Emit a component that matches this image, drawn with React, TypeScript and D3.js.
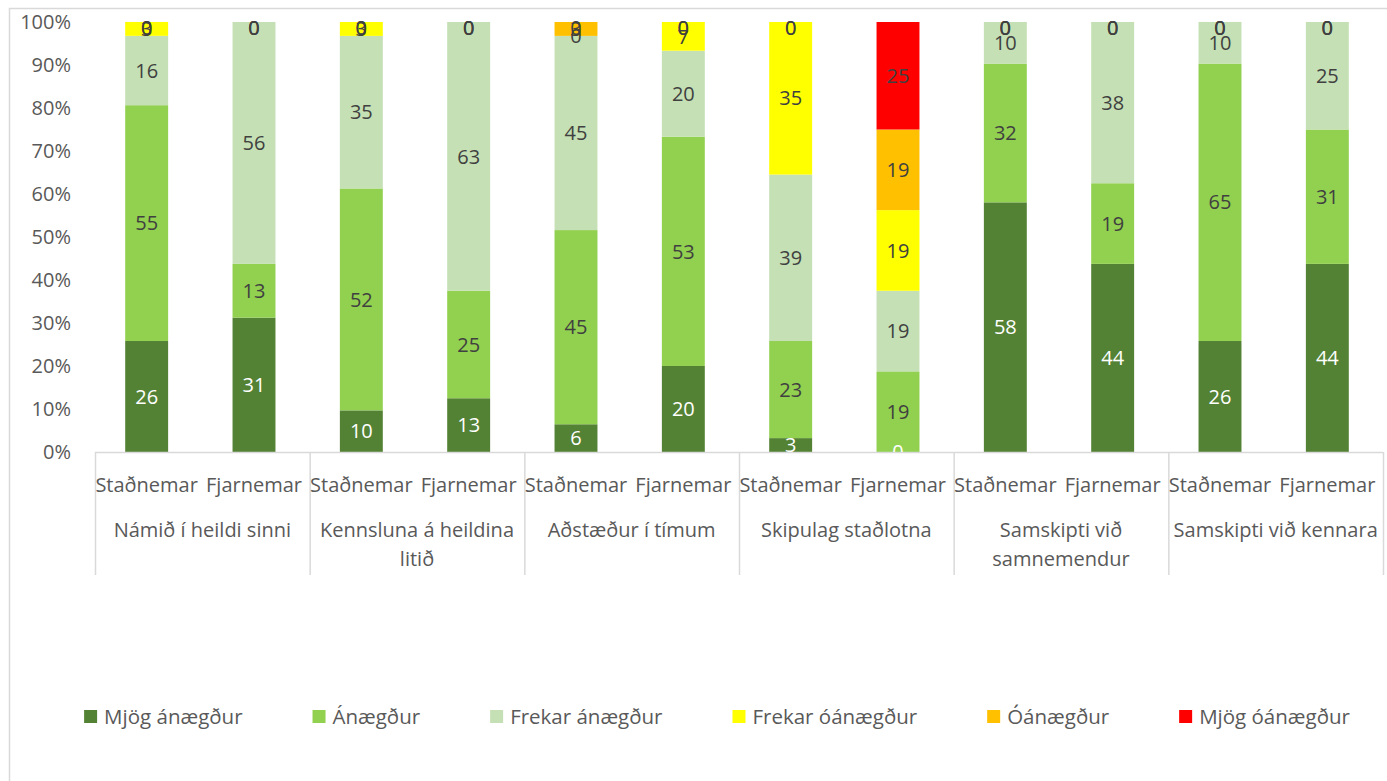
import React, { useEffect, useRef } from "react";
import * as d3 from "d3";

const categories = [
  "Námið í heildi sinni",
  "Kennsluna á heildina\nlitið",
  "Aðstæður í tímum",
  "Skipulag staðlotna",
  "Samskipti við\nsamnemendur",
  "Samskipti við kennara",
];
const groups = ["Staðnemar", "Fjarnemar"];
const seriesNames = [
  "Mjög ánægður",
  "Ánægður",
  "Frekar ánægður",
  "Frekar óánægður",
  "Óánægður",
  "Mjög óánægður",
];
const seriesColors = ["#548235", "#92D050", "#C5E0B4", "#FFFF00", "#FFC000", "#FF0000"];
const labelColors = ["#ffffff", "#404040", "#404040", "#404040", "#404040", "#404040"];

// 12 bars: category x group (Staðnemar, Fjarnemar)
const mjogAnaegdur = [25.81, 31.25, 9.68, 12.5, 6.45, 20, 3.23, 0, 58.06, 43.75, 25.81, 43.75];
const anaegdur = [54.84, 12.5, 51.61, 25, 45.16, 53.33, 22.58, 18.75, 32.26, 18.75, 64.52, 31.25];
const frekarAnaegdur = [16.13, 56.25, 35.48, 62.5, 45.16, 20, 38.71, 18.75, 9.68, 37.5, 9.68, 25];
const frekarOanaegdur = [3.23, 0, 3.23, 0, 0, 6.67, 35.48, 18.75, 0, 0, 0, 0];
const oanaegdur = [0, 0, 0, 0, 3.23, 0, 0, 18.75, 0, 0, 0, 0];
const mjogOanaegdur = [0, 0, 0, 0, 0, 0, 0, 25, 0, 0, 0, 0];
const yTicks = [0, 10, 20, 30, 40, 50, 60, 70, 80, 90, 100];

const seriesValues = [mjogAnaegdur, anaegdur, frekarAnaegdur, frekarOanaegdur, oanaegdur, mjogOanaegdur];

const FONT = "'Open Sans', sans-serif";
const FS = 20;
const LFS = 20.5;
const TEXT = "#595959";
const GRID = "#d9d9d9";

export default function App() {
  const ref = useRef<SVGSVGElement>(null);

  useEffect(() => {
    const svg = d3.select(ref.current);
    svg.selectAll("*").remove();

    const W = 1387, H = 781;
    const left = 95, right = 1383, top = 22, bottom = 452;

    // chart border
    svg.append("rect").attr("x", 9.5).attr("y", 8.5).attr("width", W + 20).attr("height", H + 20)
      .attr("fill", "none").attr("stroke", GRID).attr("stroke-width", 1.5);

    const rows = categories.flatMap((c, ci) => groups.map((g, gi) => {
      const r: any = { cat: c, group: g, idx: ci * 2 + gi };
      seriesNames.forEach((s, si) => { r[s] = seriesValues[si][ci * 2 + gi]; });
      return r;
    }));

    const x0 = d3.scaleBand<string>().domain(categories).range([left, right]).paddingInner(0).paddingOuter(0);
    const x1 = d3.scaleBand<string>().domain(groups).range([-2, x0.bandwidth() - 2]).paddingInner(0.6).paddingOuter(0.3);
    const y = d3.scaleLinear().domain([0, 100]).range([bottom, top]);

    const stacked = d3.stack<any>().keys(seriesNames)(rows);

    // clip for labels
    svg.append("defs").append("clipPath").attr("id", "plotclip")
      .append("rect").attr("x", left).attr("y", 0).attr("width", right - left).attr("height", bottom);

    // bars
    stacked.forEach((layer, si) => {
      svg.append("g").selectAll("rect").data(layer).join("rect")
        .attr("x", (d: any) => (x0(d.data.cat) as number) + (x1(d.data.group) as number))
        .attr("width", x1.bandwidth())
        .attr("y", (d: any) => y(d[1]))
        .attr("height", (d: any) => Math.max(0, y(d[0]) - y(d[1])))
        .attr("fill", seriesColors[si]);
    });

    // axis line
    svg.append("line").attr("x1", left).attr("x2", right).attr("y1", bottom + 0.5).attr("y2", bottom + 0.5)
      .attr("stroke", GRID).attr("stroke-width", 1.5);

    // labels
    const lg = svg.append("g").attr("clip-path", "url(#plotclip)");
    stacked.forEach((layer, si) => {
      lg.append("g").selectAll("text").data(layer).join("text")
        .attr("x", (d: any) => (x0(d.data.cat) as number) + (x1(d.data.group) as number) + x1.bandwidth() / 2)
        .attr("y", (d: any) => Math.max(y((d[0] + d[1]) / 2), top + 6))
        .attr("dy", "0.36em")
        .attr("text-anchor", "middle")
        .attr("font-family", FONT).attr("font-size", FS)
        .attr("fill", labelColors[si])
        .text((d: any) => String(Math.round(d[1] - d[0])));
    });

    // y ticks
    svg.append("g").selectAll("text").data(yTicks).join("text")
      .attr("x", 71).attr("y", (d) => y(d)).attr("dy", "0.36em")
      .attr("text-anchor", "end").attr("font-family", FONT).attr("font-size", FS).attr("fill", TEXT)
      .text((d) => d + "%");

    // separators
    const bounds = categories.map((c) => x0(c) as number).concat([right]);
    svg.append("g").selectAll("line").data(bounds).join("line")
      .attr("x1", (d) => d + 0.5).attr("x2", (d) => d + 0.5).attr("y1", bottom).attr("y2", 575)
      .attr("stroke", GRID).attr("stroke-width", 1.5);

    // group labels
    svg.append("g").selectAll("text").data(rows).join("text")
      .attr("x", (d: any) => (x0(d.cat) as number) + (x1(d.group) as number) + x1.bandwidth() / 2)
      .attr("y", 492)
      .attr("text-anchor", "middle").attr("font-family", FONT).attr("font-size", FS).attr("fill", TEXT)
      .text((d: any) => d.group);

    // category labels
    const cg = svg.append("g").selectAll("text").data(categories).join("text")
      .attr("x", (d) => (x0(d) as number) + x0.bandwidth() / 2)
      .attr("y", 537)
      .attr("text-anchor", "middle").attr("font-family", FONT).attr("font-size", FS).attr("fill", TEXT);
    cg.each(function (d) {
      const t = d3.select(this);
      d.split("\n").forEach((line, i) => {
        t.append("tspan").attr("x", (x0(d) as number) + x0.bandwidth() / 2).attr("dy", i === 0 ? 0 : 29).text(line);
      });
    });

    // legend
    const leg = svg.append("g");
    const items = seriesNames.map((s, i) => {
      const g = leg.append("g");
      g.append("rect").attr("x", 0).attr("y", 710).attr("width", 13).attr("height", 13).attr("fill", seriesColors[i]);
      const t = g.append("text").attr("x", 20).attr("y", 724).attr("font-family", FONT).attr("font-size", LFS)
        .attr("fill", TEXT).text(s);
      const w = (t.node() as SVGTextElement).getComputedTextLength();
      return { g, w: 20 + w };
    });
    const gap = 70;
    const total = d3.sum(items, (d) => d.w) + gap * (items.length - 1);
    let cx = 717 - total / 2;
    items.forEach((it) => { it.g.attr("transform", `translate(${cx},0)`); cx += it.w + gap; });
  }, []);

  return (
    <svg ref={ref} width={1387} height={781}
      style={{ position: "absolute", left: 0, top: 0, background: "#fff" }} />
  );
}
